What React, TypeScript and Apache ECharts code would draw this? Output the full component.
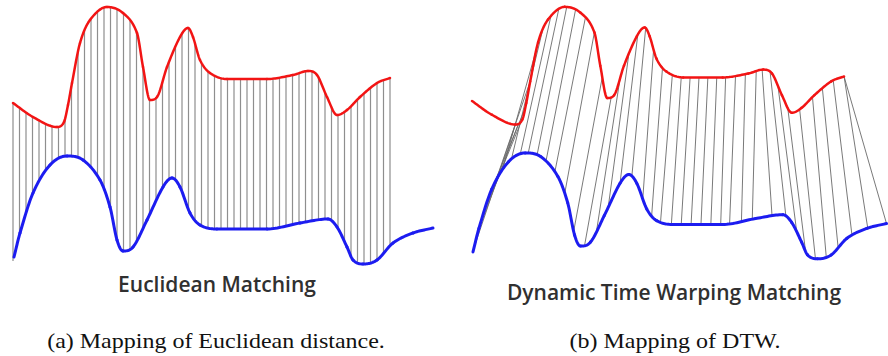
import React, { useEffect, useRef } from "react";
import * as echarts from "echarts";

// Red series (upper curve): time / amplitude control points
const redT = [0, 20, 44, 51, 55, 59, 67, 77, 94, 110, 124, 130, 137, 144, 154, 167, 175, 180, 187, 197, 214, 254, 280, 295, 304, 314, 324, 334, 347, 364, 377];
const redA = [167, 153, 143, 148, 165, 187, 227, 250, 263, 257, 237, 203, 170, 173, 203, 233, 242, 233, 210, 197, 191, 191, 195, 199, 195, 173, 155, 160, 173, 187, 192];

// Blue series (lower curve)
const blueT = [1, 7, 20, 37, 54, 70, 87, 97, 104, 110, 120, 134, 150, 159, 167, 177, 187, 204, 254, 287, 315, 324, 334, 340, 350, 364, 380, 400, 420];
const blueA = [13, 37, 77, 105, 114, 110, 90, 63, 30, 19, 23, 50, 83, 92, 83, 57, 45, 41, 41, 47, 51, 43, 23, 10, 6, 10, 27, 37, 42];

// Euclidean matching: one-to-one links at equal time stamps
const euclidT = [0, 6.5, 13, 19.5, 26, 32.5, 39, 45.5, 52, 58.5, 65, 71.5, 78, 84.5, 91, 97.5, 104, 110.5, 117, 123.5, 130, 136.5, 143, 149.5, 156, 162.5, 169, 175.5, 182, 188.5, 195, 201.5, 208, 214.5, 221, 227.5, 234, 240.5, 247, 253.5, 260, 266.5, 273, 279.5, 286, 292.5, 299, 305.5, 312, 318.5, 325, 331.5, 338, 344.5, 351, 357.5, 364, 370.5, 377];

// DTW warping path: red time -> blue time
const dtwRed = [44, 47, 50, 54, 59, 65, 72, 80, 88, 96, 105, 115, 124, 132, 141, 150, 159, 168, 176, 184, 193, 203, 212, 221, 230, 239, 248, 257, 267, 277, 288, 294, 302, 310, 320, 332, 345, 355, 366, 377, 377];
const dtwBlue = [2, 6, 11, 17, 24, 31, 40, 49, 57, 66, 75, 84, 94, 103, 114, 126, 138, 150, 162, 173, 182, 191, 202, 212, 222, 232, 242, 252, 261, 273, 284, 304, 318, 329, 338, 348, 359, 371, 385, 401, 420];

const panelTitles = ["Euclidean Matching", "Dynamic Time Warping Matching"];
const captions = ["(a) Mapping of Euclidean distance.", "(b) Mapping of DTW."];

// Cubic Hermite interpolant with Catmull-Rom tangents, limited to avoid overshoot
function smoothSpline(xs: number[], ys: number[]) {
  const n = xs.length;
  const h: number[] = [];
  const d: number[] = [];
  for (let i = 0; i < n - 1; i++) {
    h.push(xs[i + 1] - xs[i]);
    d.push((ys[i + 1] - ys[i]) / h[i]);
  }
  const m: number[] = new Array(n).fill(0);
  m[0] = d[0];
  m[n - 1] = d[n - 2];
  for (let i = 1; i < n - 1; i++) {
    if (d[i - 1] * d[i] <= 0) m[i] = 0;
    else m[i] = (ys[i + 1] - ys[i - 1]) / (xs[i + 1] - xs[i - 1]);
  }
  for (let i = 0; i < n - 1; i++) {
    if (d[i] === 0) {
      m[i] = 0;
      m[i + 1] = 0;
      continue;
    }
    const a = m[i] / d[i];
    const b = m[i + 1] / d[i];
    const s = a * a + b * b;
    if (s > 9) {
      const tau = 3 / Math.sqrt(s);
      m[i] = tau * a * d[i];
      m[i + 1] = tau * b * d[i];
    }
  }
  return (x: number) => {
    let i = 0;
    while (i < n - 2 && x > xs[i + 1]) i++;
    const t = (x - xs[i]) / h[i];
    const t2 = t * t;
    const t3 = t2 * t;
    return (
      (2 * t3 - 3 * t2 + 1) * ys[i] +
      (t3 - 2 * t2 + t) * h[i] * m[i] +
      (-2 * t3 + 3 * t2) * ys[i + 1] +
      (t3 - t2) * h[i] * m[i + 1]
    );
  };
}

const redFn = smoothSpline(redT, redA);
const blueFn = smoothSpline(blueT, blueA);

function curveSeries(ts: number[], as: number[], fn: (x: number) => number, color: string, width: number, gi: number) {
  return {
    type: "custom",
    xAxisIndex: gi,
    yAxisIndex: gi,
    z: 3,
    clip: false,
    data: ts.map((t, i) => [t, as[i]]),
    encode: { x: 0, y: 1 },
    renderItem: (params: any, api: any) => {
      const i = params.dataIndex;
      if (i >= ts.length - 1) return null;
      const pts: number[][] = [];
      const steps = 16;
      for (let k = 0; k <= steps; k++) {
        const x = ts[i] + ((ts[i + 1] - ts[i]) * k) / steps;
        pts.push(api.coord([x, fn(x)]));
      }
      return {
        type: "polyline",
        shape: { points: pts },
        style: { stroke: color, lineWidth: width, fill: null, lineCap: "round", lineJoin: "round" },
      };
    },
  };
}

function linkSeries(pairs: number[][], color: string, width: number, gi: number) {
  return {
    type: "custom",
    xAxisIndex: gi,
    yAxisIndex: gi,
    z: 1,
    clip: false,
    data: pairs,
    encode: { x: [0, 1] },
    renderItem: (params: any, api: any) => {
      const r = api.value(0);
      const b = api.value(1);
      const p1 = api.coord([r, redFn(r)]);
      const p2 = api.coord([b, blueFn(b)]);
      return {
        type: "line",
        shape: { x1: p1[0], y1: p1[1], x2: p2[0], y2: p2[1] },
        style: { stroke: color, lineWidth: width },
      };
    },
  };
}

export default function App() {
  const ref = useRef<HTMLDivElement>(null);
  useEffect(() => {
    if (!ref.current) return;
    const chart = echarts.init(ref.current, null, { renderer: "svg" });
    const hiddenX = (gi: number) => ({ type: "value", gridIndex: gi, min: 0, max: 420, show: false });
    const hiddenY = (gi: number) => ({ type: "value", gridIndex: gi, min: 0, max: 270, show: false });
    const titleFont = '600 21px "Open Sans"';
    const captionFont = '20px "Liberation Serif"';
    chart.setOption({
      animation: false,
      backgroundColor: "#ffffff",
      grid: [
        { left: 13, top: 0, width: 420, height: 270 },
        { left: 472, top: -1, width: 414.5, height: 265.7 },
      ],
      xAxis: [hiddenX(0), hiddenX(1)],
      yAxis: [hiddenY(0), hiddenY(1)],
      series: [
        linkSeries(euclidT.map((t) => [t, t]), "#8e8e8e", 1.2, 0),
        curveSeries(redT, redA, redFn, "#f21414", 2.5, 0),
        curveSeries(blueT, blueA, blueFn, "#1c1cf0", 3, 0),
        linkSeries(dtwRed.map((r, i) => [r, dtwBlue[i]]), "#6a6a6a", 0.9, 1),
        curveSeries(redT, redA, redFn, "#f21414", 2.5, 1),
        curveSeries(blueT, blueA, blueFn, "#1c1cf0", 3, 1),
      ],
      graphic: [
        {
          type: "text", x: 217, y: 284,
          style: { text: panelTitles[0], font: titleFont, fill: "#303030", textAlign: "center", textVerticalAlign: "middle" },
        },
        {
          type: "text", x: 674, y: 292,
          style: { text: panelTitles[1], font: titleFont, fill: "#303030", textAlign: "center", textVerticalAlign: "middle" },
        },
        {
          type: "text", x: 216, y: 341, scaleX: 1.2,
          style: { text: captions[0], font: captionFont, fill: "#111111", textAlign: "center", textVerticalAlign: "middle" },
        },
        {
          type: "text", x: 675, y: 341, scaleX: 1.2,
          style: { text: captions[1], font: captionFont, fill: "#111111", textAlign: "center", textVerticalAlign: "middle" },
        },
      ],
    });
    return () => chart.dispose();
  }, []);
  return <div ref={ref} style={{ position: "absolute", left: 0, top: 0, width: 888, height: 356 }} />;
}
